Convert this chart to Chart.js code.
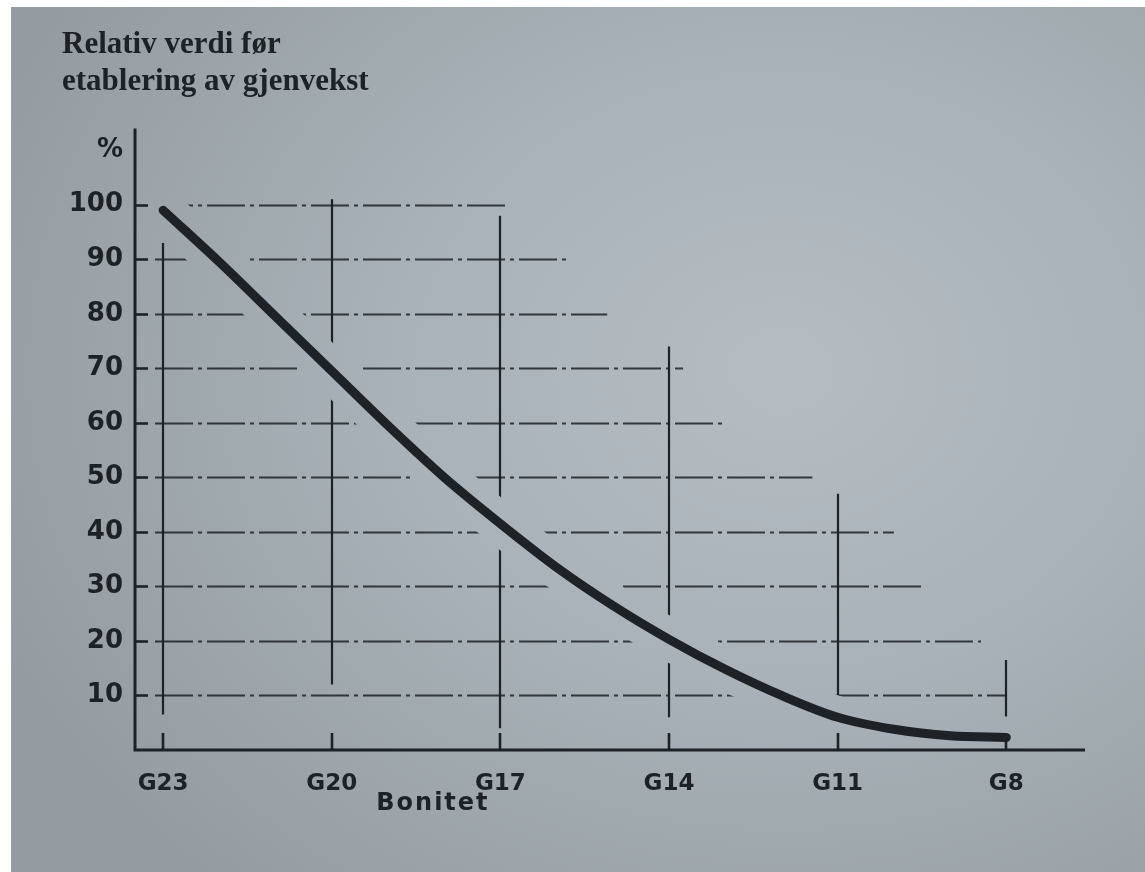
<!DOCTYPE html>
<html>
<head>
<meta charset="utf-8">
<title>Relativ verdi før etablering av gjenvekst</title>
<script src="https://cdn.jsdelivr.net/npm/chart.js@4"></script>
<style>
  html, body { margin: 0; padding: 0; background: #fff; }
  #wrap { position: relative; width: 1145px; height: 872px; overflow: hidden; }
  #paper {
    position: absolute; left: 11px; top: 7px; right: 0; bottom: 0;
    background: radial-gradient(ellipse 75% 80% at 68% 42%, #b5bdc3 0%, #a9b2b8 45%, #949ca1 100%);
  }
  #chart { position: absolute; left: 0; top: 0; }
</style>
</head>
<body>
<div id="wrap">
  <div id="paper"></div>
  <canvas id="chart" width="1145" height="872"></canvas>
</div>
<script>
/* data */
const bonitet = [23, 22, 21, 20, 19, 18, 17, 16, 15, 14, 13, 12, 11, 10, 9, 8];
const relativVerdi = [99, 89.5, 79.5, 69.5, 59.5, 50, 41.5, 33.5, 26.5, 20.3, 14.8, 10, 6, 3.8, 2.6, 2.3];

const xTickValues = [23, 20, 17, 14, 11, 8];
const xTickLabels = ['G23', 'G20', 'G17', 'G14', 'G11', 'G8'];
const yTickValues = [10, 20, 30, 40, 50, 60, 70, 80, 90, 100, 110];
const yTickLabels = ['10', '20', '30', '40', '50', '60', '70', '80', '90', '100', '%'];

// broken grid of the original: where each horizontal line stops (bonitet units)
const gridLevels = [10, 20, 30, 40, 50, 60, 70, 80, 90, 100];
const hLineEnds = [8.0, 8.45, 9.5, 10.0, 11.45, 13.0, 13.75, 15.1, 15.8, 16.85];
// and the span of each vertical line (% units)
const vLineBottoms = [6.5, 12, 4, 6, 3, 6];
const vLineTops = [93, 101, 98, 74, 47, 16.5];

const INK = '#1d2227';

const sketchGrid = {
  id: 'sketchGrid',
  beforeDatasetsDraw(chart) {
    const { ctx, scales: { x, y } } = chart;
    ctx.save();
    ctx.strokeStyle = INK;
    // horizontals, dash-dot like the drawing
    ctx.globalAlpha = 0.85;
    ctx.lineWidth = 1.8;
    ctx.setLineDash([38, 5, 4, 5]);
    const start = x.getPixelForValue(23.5) + 20;
    gridLevels.forEach((v, i) => {
      const py = Math.round(y.getPixelForValue(v)) + 0.5;
      ctx.beginPath();
      ctx.moveTo(start, py);
      ctx.lineTo(x.getPixelForValue(hLineEnds[i]), py);
      ctx.stroke();
    });
    // verticals
    ctx.globalAlpha = 1;
    ctx.setLineDash([]);
    ctx.lineWidth = 2.2;
    xTickValues.forEach((v, i) => {
      const px = Math.round(x.getPixelForValue(v));
      ctx.beginPath();
      ctx.moveTo(px, y.getPixelForValue(vLineBottoms[i]));
      ctx.lineTo(px, y.getPixelForValue(vLineTops[i]));
      ctx.stroke();
    });
    ctx.restore();
  },
  // the wide "halo" dataset punches the grid away around the curve
  beforeDatasetDraw(chart, args) {
    if (chart.data.datasets[args.index].erase) chart.ctx.globalCompositeOperation = 'destination-out';
  },
  afterDatasetDraw(chart) {
    chart.ctx.globalCompositeOperation = 'source-over';
  },
  afterDatasetsDraw(chart) {
    const { ctx, chartArea: a, scales: { x, y } } = chart;
    ctx.save();
    ctx.strokeStyle = INK;
    ctx.lineWidth = 3;
    ctx.lineCap = 'butt';
    ctx.beginPath();
    ctx.moveTo(a.left, a.top);
    ctx.lineTo(a.left, a.bottom);
    ctx.lineTo(a.right, a.bottom);
    ctx.stroke();
    // inward tick marks
    ctx.lineWidth = 2.6;
    gridLevels.forEach(v => {
      const py = Math.round(y.getPixelForValue(v)) + 0.5;
      ctx.beginPath();
      ctx.moveTo(a.left, py);
      ctx.lineTo(a.left + 13, py);
      ctx.stroke();
    });
    xTickValues.forEach(v => {
      const px = Math.round(x.getPixelForValue(v));
      ctx.beginPath();
      ctx.moveTo(px, a.bottom);
      ctx.lineTo(px, a.bottom - 17);
      ctx.stroke();
    });
    // axis title, printed left of centre in the original
    ctx.fillStyle = INK;
    ctx.font = 'bold 24px "DejaVu Sans"';
    ctx.textAlign = 'center';
    ctx.textBaseline = 'middle';
    ctx.letterSpacing = '2px';
    ctx.fillText('Bonitet', x.getPixelForValue(18.2), a.bottom + 54);
    ctx.restore();
  }
};

new Chart(document.getElementById('chart'), {
  type: 'line',
  data: {
    datasets: [
      {
        label: 'Relativ verdi',
        data: bonitet.map((b, i) => ({ x: b, y: relativVerdi[i] })),
        borderColor: INK,
        borderWidth: 9,
        borderCapStyle: 'round',
        cubicInterpolationMode: 'monotone',
        pointRadius: 0,
        order: 1
      },
      {
        label: 'halo',
        erase: true,
        data: bonitet.map((b, i) => ({ x: b, y: relativVerdi[i] })),
        borderColor: '#000',
        borderWidth: 42,
        borderCapStyle: 'round',
        cubicInterpolationMode: 'monotone',
        pointRadius: 0,
        clip: false,
        order: 2
      }
    ]
  },
  options: {
    responsive: false,
    animation: false,
    events: [],
    layout: { padding: { left: 62, right: 60, top: 6, bottom: 0 } },
    plugins: {
      legend: { display: false },
      tooltip: { enabled: false },
      title: {
        display: true,
        align: 'start',
        text: ['Relativ verdi før', 'etablering av gjenvekst'],
        color: INK,
        font: { family: '"Liberation Serif"', size: 31, weight: 'bold', lineHeight: 1.2 },
        padding: { top: 20, bottom: 28 }
      }
    },
    scales: {
      x: {
        type: 'linear',
        reverse: true,
        min: 6.6,
        max: 23.5,
        afterBuildTicks: s => { s.ticks = xTickValues.map(v => ({ value: v })); },
        afterFit: s => { s.height = 122; },
        grid: { display: false, drawTicks: false },
        border: { display: false },
        ticks: {
          color: INK,
          padding: 20,
          autoSkip: false,
          maxRotation: 0,
          font: { family: '"DejaVu Sans"', size: 23, weight: 'bold' },
          callback: (v, i) => xTickLabels[i]
        }
      },
      y: {
        min: 0,
        max: 114,
        afterBuildTicks: s => { s.ticks = yTickValues.map(v => ({ value: v })); },
        afterFit: s => { s.width = 73; },
        grid: { display: false, drawTicks: false },
        border: { display: false },
        ticks: {
          color: INK,
          padding: 12,
          autoSkip: false,
          font: { family: '"DejaVu Sans"', size: 26, weight: 'bold' },
          callback: (v, i) => yTickLabels[i]
        }
      }
    }
  },
  plugins: [sketchGrid]
});
</script>
</body>
</html>
